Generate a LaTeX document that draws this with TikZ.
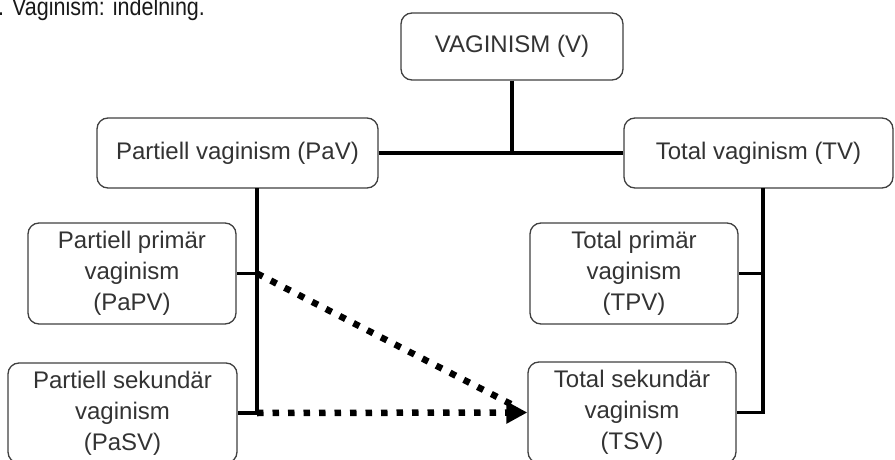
\documentclass[tikz,border=0pt]{standalone}
\usepackage{fontspec}
\setmainfont{Liberation Sans}
\usetikzlibrary{arrows.meta,positioning}

\tikzset{
  box/.style={draw=black!75, line width=1.3pt, rounded corners=11pt, fill=white,
    text=black!80, align=center, inner sep=0pt, font=\fontsize{24}{31}\selectfont},
  link/.style={line width=3.8pt},
  dotlink/.style={line width=6.5pt, dash pattern=on 6.5pt off 9pt}
}

\begin{document}
\begin{tikzpicture}[x=1pt, y=-1pt]
\useasboundingbox (0,0) rectangle (895,460);

% Caption
\node[anchor=base west, inner sep=0pt, text=black!90, font=\fontsize{25}{28}\selectfont] (title) at (-2,15.5) {\scalebox{0.86}[1]{. Vaginism: indelning.}};

% Top level
\node[box, minimum width=222pt, minimum height=67pt] (V) at (512,46.5) {VAGINISM (V)};

% Second level
\node[box, minimum width=281pt, minimum height=70pt] (PaV) at (237.5,153) {Partiell vaginism (PaV)};
\node[box, minimum width=269pt, minimum height=70pt] (TV) at (758.5,153) {Total vaginism (TV)};

% Third level
\node[box, minimum width=208pt, minimum height=101pt] (PaPV) at (132,273.5) {Partiell primär\\vaginism\\(PaPV)};
\node[box, minimum width=229pt, minimum height=100pt] (PaSV) at (122.5,413) {Partiell sekundär\\vaginism\\(PaSV)};
\node[box, minimum width=208pt, minimum height=101pt] (TPV) at (634,273.5) {Total primär\\vaginism\\(TPV)};
\node[box, minimum width=208pt, minimum height=101pt] (TSV) at (632,412.5) {Total sekundär\\vaginism\\(TSV)};

% Trunk lines
\coordinate (Ltop) at (257,188);
\coordinate (Rtop) at (763,188);

\draw[link] (V.south) -- (V.south |- PaV.east);
\draw[link] (PaV.east) -- (TV.west);

\draw[link] (Ltop) -- (Ltop |- PaSV.east) -- (PaSV.east);
\draw[link] (Ltop |- PaPV.east) -- (PaPV.east);

\draw[link] (Rtop) -- (Rtop |- TSV.east) -- (TSV.east);
\draw[link] (Rtop |- TPV.east) -- (TPV.east);

% Dotted transitions
\draw[dotlink, shorten >=16pt] (Ltop |- PaPV.east) -- (TSV.west);
\draw[dotlink, -{Triangle[length=21pt,width=21pt]}] (Ltop |- PaSV.east) -- (TSV.west);
\end{tikzpicture}
\end{document}
